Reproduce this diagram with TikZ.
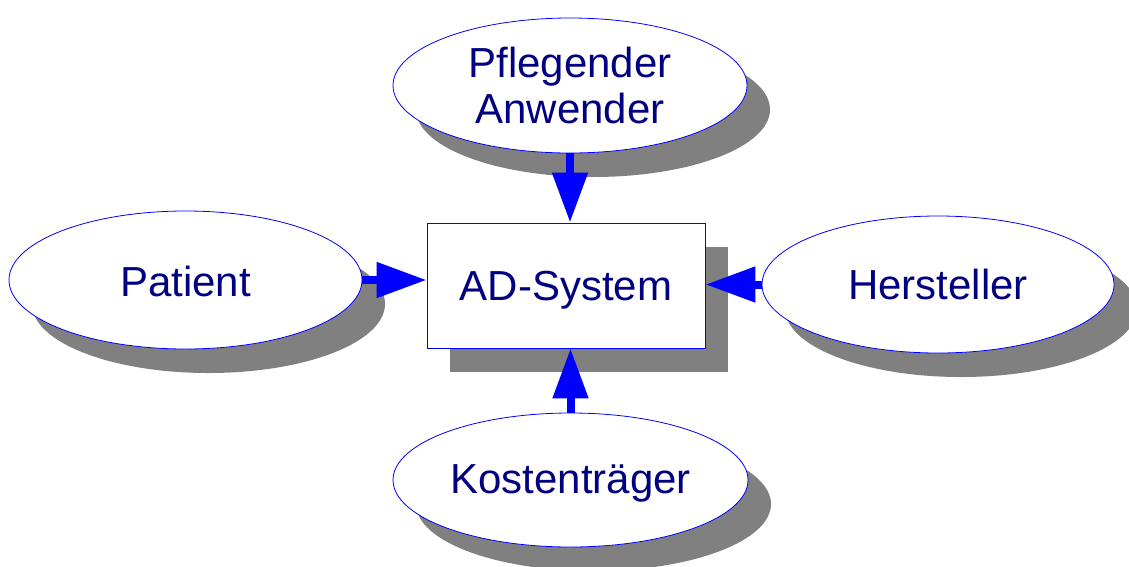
\documentclass[tikz,border=0pt]{standalone}
\usepackage{fontspec}
\setmainfont{Liberation Sans}
\usetikzlibrary{arrows.meta,shapes.geometric,shadows}
\definecolor{navy}{RGB}{0,0,128}
\definecolor{edgeblue}{RGB}{0,0,255}
\definecolor{shade}{RGB}{128,128,128}
% lower a label without changing the box that the node centres
\newcommand{\lowerby}[2]{\raisebox{-#1}[\height][\depth]{#2}}
\tikzset{
  lbl/.style={text=navy, font=\fontsize{42}{46}\selectfont, align=center},
  actor/.style={lbl, ellipse, draw=edgeblue, line width=0.8pt, fill=white, inner sep=0pt,
    drop shadow={shadow xshift=23pt, shadow yshift=-24pt, fill=shade, opacity=1}},
  sysbox/.style={lbl, rectangle, draw=edgeblue, line width=0.8pt, fill=white, inner sep=0pt,
    minimum width=278pt, minimum height=125pt,
    drop shadow={shadow xshift=23pt, shadow yshift=-24pt, fill=shade, opacity=1}},
  flow/.style={draw=edgeblue, line width=8pt, line cap=butt,
    -{Triangle[length=50pt, width=34pt]}}
}
\begin{document}
\begin{tikzpicture}[x=1pt, y=-1pt]
  \useasboundingbox (0,0) rectangle (1129,566);
  \node[sysbox] (ad) at (566,285.5) {\lowerby{5pt}{AD-System}};
  \node[actor, minimum width=353pt, minimum height=138pt] (pat) at (185.5,280) {\lowerby{1pt}{Patient}};
  \node[actor, minimum width=354pt, minimum height=135pt] (pfl) at (570,85.5) {Pflegender\\Anwender};
  \node[actor, minimum width=352pt, minimum height=137pt] (her) at (938,284.5) {Hersteller};
  \node[actor, minimum width=355pt, minimum height=134pt] (kos) at (570.5,480) {\lowerby{3pt}{Kostenträger}};
  \draw[flow] (pat.east) -- (pat.east -| ad.west);
  \draw[flow] (pfl.south) -- (pfl.south |- ad.north);
  \draw[flow] (her.west) -- (her.west -| ad.east);
  \draw[flow] (kos.north) -- (kos.north |- ad.south);
\end{tikzpicture}
\end{document}
